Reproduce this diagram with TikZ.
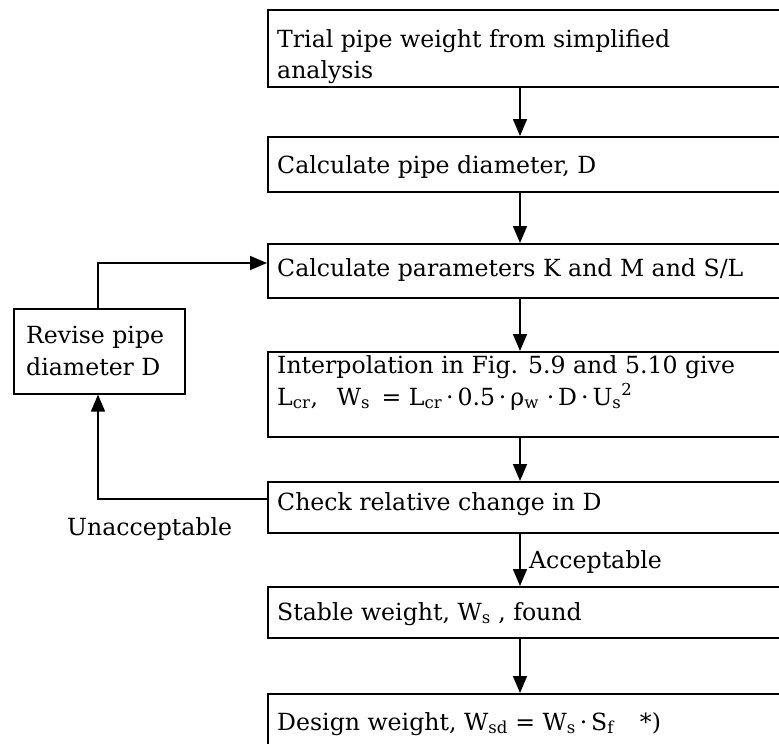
\documentclass[tikz,border=0pt]{standalone}
\usepackage{fontspec}
\setmainfont{DejaVu Serif}
\usetikzlibrary{arrows.meta}
\begin{document}
\begin{tikzpicture}[x=1pt,y=-1pt,
  box/.style={draw, line width=1.6pt, inner sep=0pt, anchor=north west},
  lbl/.style={anchor=base west, inner sep=0pt, font=\fontsize{23.6}{28}\selectfont},
  arr/.style={line width=1.6pt, -{Triangle[width=14pt,length=17pt]}}]
\useasboundingbox (0,0) rectangle (779,744);
\clip (0,0) rectangle (779,744);
% boxes
\node[box, minimum width=540pt, minimum height=77pt] (b1) at (267,9) {};
\node[box, minimum width=540pt, minimum height=55pt] (b2) at (267,136) {};
\node[box, minimum width=540pt, minimum height=54pt] (b3) at (267,243) {};
\node[box, minimum width=540pt, minimum height=85pt] (b4) at (267,351) {};
\node[box, minimum width=540pt, minimum height=51pt] (b5) at (267,481) {};
\node[box, minimum width=540pt, minimum height=51pt] (b6) at (267,586) {};
\node[box, minimum width=540pt, minimum height=70pt] (b7) at (267,693) {};
\node[box, minimum width=171pt, minimum height=85pt] (rv) at (13,308) {};
% texts
\node[lbl] (t1a) at (277,47) {Trial pipe weight from simplified};
\node[lbl] (t1b) at (277,78) {analysis};
\node[lbl] (t2) at (277,173) {Calculate pipe diameter, D};
\node[lbl] (t3) at (277,276) {Calculate parameters K and M and S/L};
\node[lbl] (t4a) at (277,373) {Interpolation in Fig. 5.9 and 5.10 give};
\node[lbl] (t4b) at (277,405) {L\textsubscript{cr},\hspace{0.8em}W\textsubscript{s} \,= L\textsubscript{cr}\,·\,0.5\,·\,ρ\textsubscript{w}\,\,·\,D\,·\,U\textsubscript{s}\textsuperscript{2}};
\node[lbl] (t5) at (277,510) {Check relative change in D};
\node[lbl] (t6) at (277,620) {Stable weight, W\textsubscript{s} , found};
\node[lbl] (t7) at (277,730) {Design weight, W\textsubscript{sd} = W\textsubscript{s}\,·\,S\textsubscript{f}\hspace{1.1em}*)};
\node[lbl] (r1) at (26,343) {Revise pipe};
\node[lbl] (r2) at (26,375) {diameter D};
\node[lbl] (un) at (67,535) {Unacceptable};
\node[lbl] (ac) at (529,568) {Acceptable};
% connectors
\coordinate (ax) at (520,0);
\coordinate (lx) at (98,0);
\coordinate (ytop) at (0,263);
\coordinate (ybot) at (0,499);
\draw[arr] (b1.south -| ax) -- (b2.north -| ax);
\draw[arr] (b2.south -| ax) -- (b3.north -| ax);
\draw[arr] (b3.south -| ax) -- (b4.north -| ax);
\draw[arr] (b4.south -| ax) -- (b5.north -| ax);
\draw[arr] (b5.south -| ax) -- (b6.north -| ax);
\draw[arr] (b6.south -| ax) -- (b7.north -| ax);
\draw[arr] (b5.west |- ybot) -| (rv.south -| lx);
\draw[arr] (rv.north -| lx) |- (b3.west |- ytop);
\end{tikzpicture}
\end{document}
